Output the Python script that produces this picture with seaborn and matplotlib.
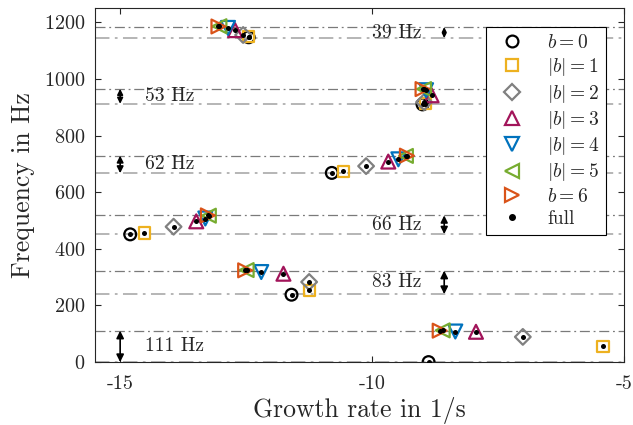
import matplotlib
matplotlib.use("Agg")
import matplotlib.pyplot as plt
from matplotlib.lines import Line2D
import seaborn as sns
import pandas as pd

# ---- data ----
b0_x = [-12.45, -9.00, -10.80, -14.80, -11.60, -8.88]
b0_y = [1147, 910, 668, 451, 238, 0]
b1_x = [-12.45, -8.95, -10.57, -14.52, -11.25, -5.42]
b1_y = [1149, 913, 674, 456, 254, 56]
b2_x = [-12.56, -8.97, -10.12, -13.94, -11.25, -7.01]
b2_y = [1155, 918, 692, 478, 283, 89]
b3_x = [-12.72, -8.82, -9.68, -13.49, -11.76, -7.94]
b3_y = [1172, 942, 708, 497, 312, 107]
b4_x = [-12.86, -8.93, -9.48, -13.31, -12.20, -8.35]
b4_y = [1180, 960, 716, 507, 318, 108]
b5_x = [-13.03, -8.97, -9.33, -13.24, -12.49, -8.60]
b5_y = [1186, 964, 728, 517, 325, 112]
b6_x = [-13.05, -9.00, -9.31, -13.26, -12.52, -8.66]
b6_y = [1185, 964, 729, 518, 324, 111]

series_labels = ["$b=0$", "$|b|=1$", "$|b|=2$", "$|b|=3$", "$|b|=4$", "$|b|=5$", "$b=6$"]
series_x = [b0_x, b1_x, b2_x, b3_x, b4_x, b5_x, b6_x]
series_y = [b0_y, b1_y, b2_y, b3_y, b4_y, b5_y, b6_y]

ref_high = [1183, 965, 729, 518, 323, 111]
ref_low = [1144, 912, 667, 452, 240, 0]
gap_labels = ["39 Hz", "53 Hz", "62 Hz", "66 Hz", "83 Hz", "111 Hz"]
gap_arrow_x = [-8.57, -15.0, -15.0, -8.57, -8.57, -15.0]
gap_text_x = [-10.0, -14.5, -14.5, -10.0, -10.0, -14.5]

x_ticks = [-15, -10, -5]
y_ticks = [0, 200, 400, 600, 800, 1000, 1200]

# ---- style ----
sns.set_style("ticks")
plt.rcParams["font.family"] = "serif"
plt.rcParams["font.serif"] = ["cmr10", "DejaVu Serif"]
plt.rcParams["mathtext.fontset"] = "cm"
plt.rcParams["axes.unicode_minus"] = False
plt.rcParams["axes.formatter.use_mathtext"] = True

colors = ["black", "#EDB120", "#808080", "#A2145A", "#0072BD", "#77AC30", "#D95319"]
markers = ["o", "s", "D", "^", "v", "<", ">"]
msizes = [8.5, 8, 8, 10, 10, 10, 10]

fig = plt.figure(figsize=(6.33, 4.25), dpi=100)
ax = fig.add_axes([0.150, 0.148, 0.836, 0.833])

for yh, yl in zip(ref_high, ref_low):
    ax.axhline(yh, color="#7a7a7a", lw=0.9, ls=(0, (8, 3, 1.5, 3)), zorder=1)
    ax.axhline(yl, color="#b0b0b0", lw=1.3, ls=(0, (8, 3, 1.5, 3)), zorder=1)

for xs, ys, c, m, ms in zip(series_x, series_y, colors, markers, msizes):
    df = pd.DataFrame({"x": xs, "y": ys})
    sns.scatterplot(data=df, x="x", y="y", ax=ax, marker=m, s=ms ** 2,
                    facecolor="none", edgecolor=c, linewidth=1.6, zorder=3, legend=False)

full_x = sum(series_x, [])
full_y = sum(series_y, [])
sns.scatterplot(x=full_x, y=full_y, ax=ax, color="black", s=13, linewidth=0, zorder=4, legend=False)

px_per_hz = 0.2833
for yh, yl, lab, ax_x, tx in zip(ref_high, ref_low, gap_labels, gap_arrow_x, gap_text_x):
    scale = min(11, (yh - yl) * px_per_hz * 0.55)
    ax.annotate("", xy=(ax_x, yh), xytext=(ax_x, yl),
                arrowprops=dict(arrowstyle="<|-|>", color="black", lw=1.2,
                                mutation_scale=scale, shrinkA=0, shrinkB=0), zorder=5)
    ax.text(tx, (yh + yl) / 2, lab, ha="left", va="center", fontsize=14, zorder=5)

ax.set_xlim(-15.5, -5)
ax.set_ylim(0, 1250)
ax.set_xticks(x_ticks)
ax.set_yticks(y_ticks)
ax.set_xticklabels([str(t) for t in x_ticks])
ax.tick_params(direction="in", top=True, right=True, labelsize=14.5, length=4, width=0.8)
ax.tick_params(axis="x", pad=9)
ax.tick_params(axis="y", pad=7)
ax.set_xlabel("Growth rate in 1/s", fontsize=18.5, labelpad=3)
ax.set_ylabel("Frequency in Hz", fontsize=18.5, labelpad=6)
for sp in ax.spines.values():
    sp.set_linewidth(0.8)
    sp.set_color("#262626")

handles = []
for c, m, ms in zip(colors, markers, msizes):
    handles.append(Line2D([], [], ls="none", marker=m, markersize=ms,
                          mfc="none", mec=c, mew=1.6))
handles.append(Line2D([], [], ls="none", marker="o", markersize=4, mfc="black", mec="black"))
leg = ax.legend(handles, series_labels + ["full"], loc="upper right",
                bbox_to_anchor=(0.966, 0.946), fontsize=14, frameon=True, fancybox=False,
                framealpha=1, edgecolor="black", labelspacing=0.22, handletextpad=0.8,
                borderpad=0.35, handlelength=2.0, borderaxespad=0)
leg.get_frame().set_linewidth(0.8)
leg.set_zorder(6)

fig.savefig("out.png", dpi=100)
